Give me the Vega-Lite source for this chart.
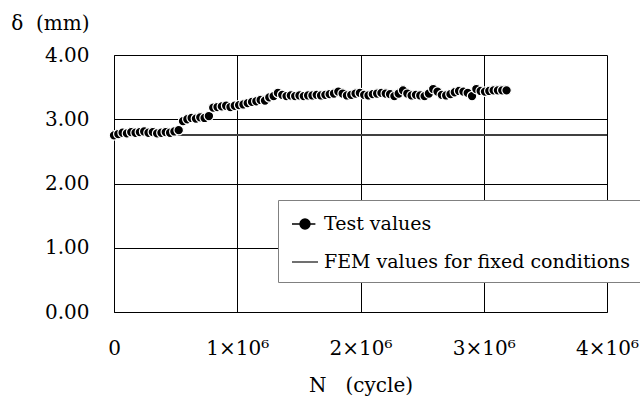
{
  "$schema": "https://vega.github.io/schema/vega-lite/v6.json",
  "width": 493,
  "height": 257,
  "autosize": {"type": "none"},
  "padding": {"left": 114, "top": 55, "right": 33, "bottom": 91},
  "background": "white",
  "config": {"view": {"stroke": null}, "font": "DejaVu Serif"},
  "datasets": {
    "test": [
      {"N":0,"d":2.75},{"N":35000,"d":2.77},{"N":70000,"d":2.79},{"N":105000,"d":2.78},{"N":140000,"d":2.80},{"N":175000,"d":2.79},{"N":210000,"d":2.80},{"N":245000,"d":2.81},{"N":280000,"d":2.79},{"N":315000,"d":2.80},{"N":350000,"d":2.78},{"N":385000,"d":2.79},{"N":420000,"d":2.80},{"N":455000,"d":2.79},{"N":490000,"d":2.81},{"N":525000,"d":2.83},
      {"N":560000,"d":2.97},{"N":595000,"d":3.00},{"N":630000,"d":3.02},{"N":665000,"d":3.01},{"N":700000,"d":3.03},{"N":735000,"d":3.02},{"N":770000,"d":3.05},
      {"N":805000,"d":3.18},{"N":840000,"d":3.19},{"N":875000,"d":3.20},{"N":910000,"d":3.21},{"N":945000,"d":3.19},{"N":980000,"d":3.21},{"N":1015000,"d":3.22},{"N":1050000,"d":3.23},{"N":1085000,"d":3.25},{"N":1120000,"d":3.27},{"N":1155000,"d":3.28},{"N":1190000,"d":3.30},{"N":1225000,"d":3.29},{"N":1260000,"d":3.34},{"N":1295000,"d":3.36},{"N":1330000,"d":3.41},{"N":1365000,"d":3.38},{"N":1400000,"d":3.36},{"N":1435000,"d":3.37},{"N":1470000,"d":3.36},{"N":1505000,"d":3.37},{"N":1540000,"d":3.36},{"N":1575000,"d":3.37},{"N":1610000,"d":3.37},{"N":1645000,"d":3.38},{"N":1680000,"d":3.37},{"N":1715000,"d":3.38},{"N":1750000,"d":3.39},{"N":1785000,"d":3.40},{"N":1820000,"d":3.43},{"N":1855000,"d":3.40},{"N":1890000,"d":3.37},{"N":1925000,"d":3.38},{"N":1960000,"d":3.40},{"N":1995000,"d":3.41},{"N":2030000,"d":3.38},{"N":2065000,"d":3.37},{"N":2100000,"d":3.39},{"N":2135000,"d":3.40},{"N":2170000,"d":3.41},{"N":2205000,"d":3.40},{"N":2240000,"d":3.39},{"N":2275000,"d":3.36},{"N":2310000,"d":3.40},{"N":2345000,"d":3.45},{"N":2380000,"d":3.40},{"N":2415000,"d":3.37},{"N":2450000,"d":3.38},{"N":2485000,"d":3.37},{"N":2520000,"d":3.36},{"N":2555000,"d":3.40},{"N":2590000,"d":3.47},{"N":2625000,"d":3.43},{"N":2660000,"d":3.38},{"N":2695000,"d":3.37},{"N":2730000,"d":3.39},{"N":2765000,"d":3.42},{"N":2800000,"d":3.44},{"N":2835000,"d":3.43},{"N":2870000,"d":3.41},{"N":2905000,"d":3.36},{"N":2940000,"d":3.47},{"N":2975000,"d":3.44},{"N":3010000,"d":3.43},{"N":3045000,"d":3.44},{"N":3080000,"d":3.45},{"N":3115000,"d":3.45},{"N":3150000,"d":3.45},{"N":3185000,"d":3.45}
    ],
    "fem": [{"N":0,"d":2.755},{"N":4000000,"d":2.755}]
  },
  "encoding": {
    "x": {
      "field": "N", "type": "quantitative",
      "scale": {"domain": [0, 4000000], "nice": false},
      "axis": {
        "values": [0, 1000000, 2000000, 3000000, 4000000],
        "labelExpr": "datum.value == 0 ? '0' : format(datum.value/1000000, 'd') + '×10⁶'",
        "title": "N\u00a0\u00a0\u00a0(cycle)",
        "grid": true, "gridColor": "black", "gridOpacity": 1, "gridWidth": 1,
        "domainColor": "black", "domainWidth": 1, "ticks": false,
        "labelPadding": 26, "labelFont": "DejaVu Serif", "labelFontSize": 20, "labelColor": "black",
        "labelFlush": false, "labelOverlap": false,
        "titleFont": "DejaVu Serif", "titleFontSize": 20, "titleFontWeight": "normal", "titleColor": "black",
        "titleY": 79, "titleBaseline": "alphabetic"
      }
    },
    "y": {
      "field": "d", "type": "quantitative",
      "scale": {"domain": [0, 4], "nice": false},
      "axis": {
        "values": [0, 1, 2, 3, 4], "format": ".2f",
        "title": "δ\u00a0\u00a0(mm)", "titleAngle": 0, "titleAlign": "right", "titleX": -25, "titleY": -26, "titleBaseline": "alphabetic",
        "grid": true, "gridColor": "black", "gridOpacity": 1, "gridWidth": 1,
        "domainColor": "black", "domainWidth": 1, "ticks": false,
        "labelPadding": 25, "labelFont": "DejaVu Serif", "labelFontSize": 20, "labelColor": "black",
        "titleFont": "DejaVu Serif", "titleFontSize": 20, "titleFontWeight": "normal", "titleColor": "black"
      }
    },
    "color": {
      "datum": "x", "type": "nominal",
      "scale": {"domain": ["Test values", "FEM values for fixed conditions"], "range": ["black", "#404040"]},
      "legend": {
        "orient": "none", "legendX": 164, "legendY": 145, "title": null,
        "strokeColor": "#808080", "fillColor": "white", "padding": 10,
        "symbolOffset": 3, "symbolSize": 676, "symbolStrokeWidth": 1.5,
        "labelFont": "DejaVu Serif", "labelFontSize": 19, "labelColor": "black", "labelLimit": 500, "labelOffset": 5,
        "rowPadding": 14,
        "encode": {
          "symbols": {
            "update": {
              "shape": {"signal": "datum.value === 'Test values' ? 'M-1,0L-0.38,0M0.38,0L0.8,0M-0.38,0A0.38,0.38,0,1,1,0.38,0A0.38,0.38,0,1,1,-0.38,0Z' : 'M-1,0L1,0'"},
              "fill": {"value": "black"},
              "stroke": {"value": "black"},
              "strokeWidth": {"value": 1.5},
              "opacity": {"value": 1},
              "size": {"value": 676}
            }
          }
        }
      }
    }
  },
  "layer": [
    {
      "data": {"name": "fem"},
      "mark": {"type": "line", "strokeWidth": 2},
      "encoding": {"color": {"datum": "FEM values for fixed conditions", "type": "nominal"}}
    },
    {
      "data": {"name": "test"},
      "mark": {"type": "point", "filled": true, "size": 90, "stroke": "white", "strokeWidth": 1.2, "strokeOpacity": 1, "opacity": 1},
      "encoding": {"color": {"datum": "Test values", "type": "nominal"}}
    }
  ]
}
